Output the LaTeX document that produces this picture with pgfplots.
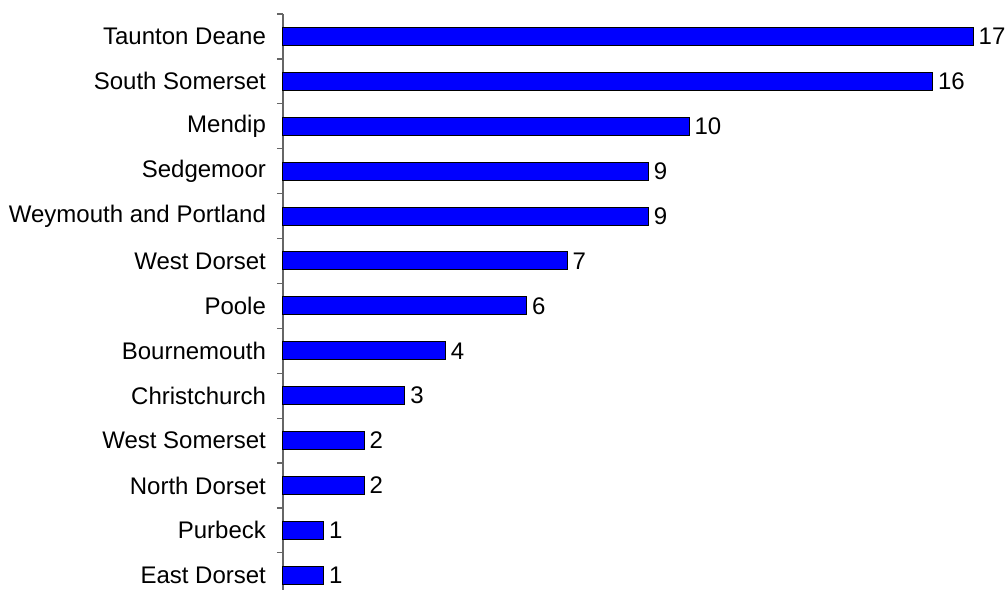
\documentclass[border=0pt]{standalone}
\usepackage{fontspec}
\setmainfont{Liberation Sans}
\usepackage{pgfplots}
\pgfplotsset{compat=1.18}
\begin{document}
\begin{tikzpicture}
\begin{axis}[
  name=ax,
  x=20.3pt, y=22.45pt,
  xmin=0, xmax=17.6,
  ymin=-0.5, ymax=12.5,
  y dir=reverse,
  axis x line=none,
  axis y line*=left,
  axis line style={draw=black!60, line width=0.6pt},
  ytick={0,...,12},
  yticklabels={Taunton Deane,South Somerset,Mendip,Sedgemoor,Weymouth and Portland,West Dorset,Poole,Bournemouth,Christchurch,West Somerset,North Dorset,Purbeck,East Dorset},
  major tick length=0pt,
  minor ytick={-0.5,0.5,...,12.5},
  minor tick length=3pt,
  tick align=outside,
  tick style={draw=black!60, line width=0.6pt},
  yticklabel style={font=\fontsize{12}{14}\selectfont, xshift=-5pt},
  /pgf/number format/assume math mode=true,
  point meta=x,
  nodes near coords,
  every node near coord/.append style={font=\fontsize{12}{14}\selectfont, anchor=west, inner sep=0pt, xshift=2.5pt},
  clip=false,
]
\addplot[xbar, bar width=9pt, fill=blue, draw=black, line width=0.5pt] coordinates {
 (17,0) (16,1) (10,2) (9,3) (9,4) (7,5) (6,6) (4,7) (3,8) (2,9) (2,10) (1,11) (1,12)
};
\end{axis}
\pgfresetboundingbox
\path (ax.north west) ++(-141.5pt,7pt) rectangle ++(503pt,-294.5pt);
\end{tikzpicture}
\end{document}
